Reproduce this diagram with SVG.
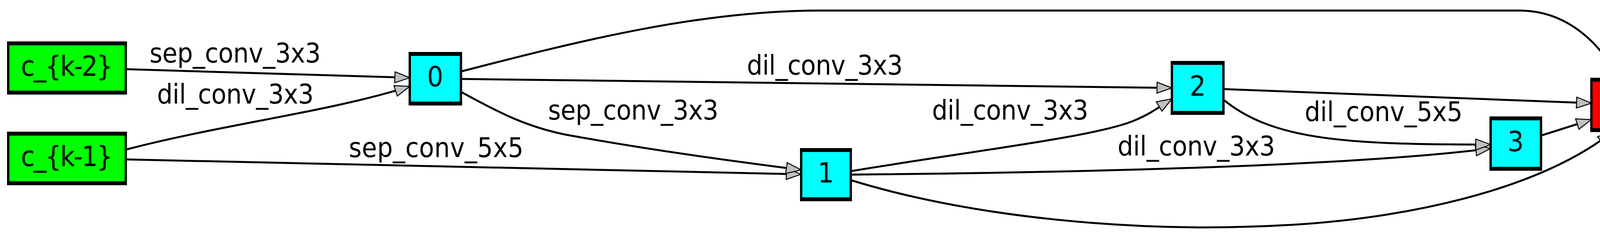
<svg xmlns="http://www.w3.org/2000/svg" width="4314" height="604" viewBox="0 0 4314 604">
<style>
.node rect.b{stroke:#000;stroke-width:6}
.bar{fill:#000}
text{font-family:"DejaVu Sans Condensed","DejaVu Sans",sans-serif;font-stretch:condensed;fill:#000}
.nt{font-size:72px;text-anchor:middle}
.lt{font-size:70px}
.e{fill:none;stroke:#000;stroke-width:5;marker-end:url(#ah)}
</style>
<defs>
<marker id="ah" markerUnits="userSpaceOnUse" markerWidth="44" markerHeight="34" refX="40" refY="16" orient="auto">
<path d="M2,2 L40,16 L2,30 Z" fill="#c0c0c0" stroke="#000" stroke-width="2.5"/>
</marker>
</defs>
<rect width="4314" height="604" fill="#fff"/>
<g id="connectors">
<path class="e" d="M322,177 L1049,199"/>
<path class="e" d="M322,383 C560,320 850,285 1049,221"/>
<path class="e" d="M322,408 L2051,446"/>
<path class="e" d="M1180,183 C1500,100 1800,27 2100,27 L3889,27 C4020,27 4100,120 4146,201"/>
<path class="e" d="M1180,202 L3000,225"/>
<path class="e" d="M1180,235 C1280,290 1350,325 1450,345 C1700,390 1900,415 2051,435"/>
<path class="e" d="M2178,438 C2500,385 2800,350 2900,310 C2950,290 2975,268 3000,253"/>
<path class="e" d="M2178,447 C2900,440 3500,420 3816,380"/>
<path class="e" d="M2178,461 C2500,560 2900,590 3200,580 C3600,570 3950,480 4128,337"/>
<path class="e" d="M3132,228 L4074,264"/>
<path class="e" d="M3132,255 C3260,360 3450,370 3816,370"/>
<path class="e" d="M3945,347 L4074,306"/>
<text class="lt" x="383" y="160" textLength="438">sep_conv_3x3</text>
<text class="lt" x="402" y="265" textLength="401">dil_conv_3x3</text>
<text class="lt" x="893" y="402" textLength="447">sep_conv_5x5</text>
<text class="lt" x="1912" y="191" textLength="399">dil_conv_3x3</text>
<text class="lt" x="1403" y="306" textLength="436">sep_conv_3x3</text>
<text class="lt" x="2386" y="306" textLength="400">dil_conv_3x3</text>
<text class="lt" x="3340" y="310" textLength="404">dil_conv_5x5</text>
<text class="lt" x="2861" y="398" textLength="403">dil_conv_3x3</text>
</g>
<g id="node-ck2" class="node"><rect class="b" x="21" y="109" width="301" height="130" fill="#00ff00"/><rect class="bar" x="18" y="106" width="307" height="10"/><rect class="bar" x="18" y="232" width="307" height="10"/><text class="nt" x="171" y="194" textLength="235">c_{k-2}</text></g>
<g id="node-ck1" class="node"><rect class="b" x="21" y="340" width="301" height="131" fill="#00ff00"/><rect class="bar" x="18" y="337" width="307" height="10"/><rect class="bar" x="18" y="464" width="307" height="10"/><text class="nt" x="171" y="425" textLength="235">c_{k-1}</text></g>
<g id="node-0" class="node"><rect class="b" x="1049" y="136" width="131" height="131" fill="#00ffff"/><rect class="bar" x="1046" y="133" width="137" height="10"/><rect class="bar" x="1046" y="260" width="137" height="10"/><text class="nt" x="1114" y="221">0</text></g>
<g id="node-1" class="node"><rect class="b" x="2051" y="382" width="127" height="130" fill="#00ffff"/><rect class="bar" x="2048" y="379" width="133" height="10"/><rect class="bar" x="2048" y="505" width="133" height="10"/><text class="nt" x="2114" y="467">1</text></g>
<g id="node-2" class="node"><rect class="b" x="3000" y="159" width="132" height="132" fill="#00ffff"/><rect class="bar" x="2997" y="156" width="138" height="10"/><rect class="bar" x="2997" y="284" width="138" height="10"/><text class="nt" x="3066" y="245">2</text></g>
<g id="node-3" class="node"><rect class="b" x="3816" y="301" width="129" height="133" fill="#00ffff"/><rect class="bar" x="3813" y="298" width="135" height="10"/><rect class="bar" x="3813" y="427" width="135" height="10"/><text class="nt" x="3880" y="387">3</text></g>
<g id="node-ck" class="node"><rect class="b" x="4074" y="202" width="236" height="133" fill="#ff0000"/><rect class="bar" x="4071" y="199" width="242" height="10"/><rect class="bar" x="4071" y="328" width="242" height="10"/><text class="nt" x="4192" y="289" textLength="170">c_{k}</text></g>
</svg>
